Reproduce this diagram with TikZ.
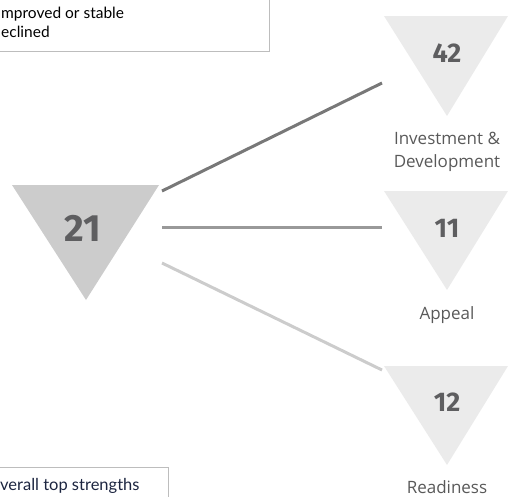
\documentclass[tikz,border=0pt]{standalone}
\usepackage{fontspec}
\setmainfont{Open Sans}
\newfontfamily\gillfont{Lato}
\newfontfamily\numfont{Fira Sans}

\definecolor{midgrey}{HTML}{CCCCCC}
\definecolor{palegrey}{HTML}{EBEBEB}
\definecolor{numgrey}{HTML}{5E5E60}
\definecolor{labelgrey}{HTML}{595959}
\definecolor{boxgrey}{HTML}{BDBDBD}
\definecolor{inkblue}{HTML}{1C2540}

\tikzset{
  bignum/.style={font=\numfont\bfseries\fontsize{38}{38}\selectfont, text=numgrey, inner sep=0pt},
  smallnum/.style={font=\numfont\bfseries\fontsize{27}{27}\selectfont, text=numgrey, inner sep=0pt},
  catlabel/.style={font=\fontsize{17}{23}\selectfont, text=labelgrey, align=center, inner sep=0pt},
  legendbox/.style={draw=boxgrey, line width=1pt},
  legendtext/.style={font=\gillfont\fontsize{15.5}{19}\selectfont, inner sep=0pt}
}

\begin{document}
\begin{tikzpicture}[x=1pt,y=-1pt]
        \useasboundingbox (0,0) rectangle (508,496);

        % legend boxes
        \draw[legendbox] (-5,-5) rectangle (269,51);
        \node[legendtext, anchor=base west] (improved) at (1,18) {mproved or stable};
        \node[legendtext, anchor=base west] (declined) at (1,37) {eclined};
        \draw[legendbox] (-5,467) rectangle (168,505);
        \node[legendtext, font=\gillfont\fontsize{16.5}{19}\selectfont, text=inkblue, anchor=base west] (strengths) at (0,490) {verall top strengths};

        % overall rank
        \coordinate (A) at (12,185);
        \coordinate (B) at (159,185);
        \coordinate (C) at (86,300);
        \fill[midgrey] (A) -- (B) -- (C) -- cycle;
        \node[bignum] (overall) at (83,228) {21};

        % sub-indices
        \fill[palegrey] (384,16) -- (508,16) -- (447,116) -- cycle;
        \node[smallnum] (invest) at (447,53) {42};
        \node[catlabel] (investlbl) at (447,151.5) {Investment \&\\Development};

        \fill[palegrey] (384,191) -- (508,191) -- (447,290) -- cycle;
        \node[smallnum] (appeal) at (447,228) {11};
        \node[catlabel] (appeallbl) at (447,315) {Appeal};

        \fill[palegrey] (384,366) -- (508,366) -- (447,465) -- cycle;
        \node[smallnum] (ready) at (447,402) {12};
        \node[catlabel, anchor=base] (readylbl) at (447,493) {Readiness};

        % links
        \coordinate (S1) at (162,191);
        \coordinate (E1) at (382,83);
        \coordinate (S2) at (162,227);
        \coordinate (E2) at (382,227);
        \coordinate (S3) at (162,263);
        \coordinate (E3) at (382,370);
        \draw[line width=3pt, color=black!53] (S1) -- (E1);
        \draw[line width=3pt, color=black!40] (S2) -- (E2);
        \draw[line width=3pt, color=midgrey] (S3) -- (E3);

    \end{tikzpicture}
\end{document}
